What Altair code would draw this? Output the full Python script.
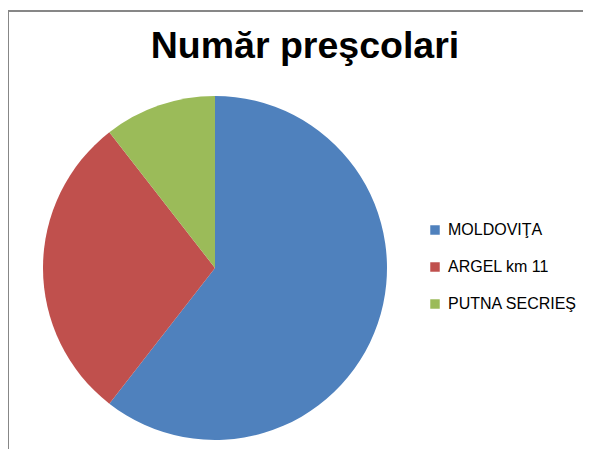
import altair as alt
import pandas as pd

categories = ["MOLDOVIŢA", "ARGEL km 11", "PUTNA SECRIEŞ"]
values = [23, 11, 4]
colors = ["#4F81BD", "#C0504D", "#9BBB59"]
title_text = "Număr preşcolari"

df = pd.DataFrame({"cat": categories, "val": values, "order": [0, 1, 2]})

W, H = 575, 441

pie = alt.Chart(df).mark_arc(radius=172, stroke=None).encode(
    theta=alt.Theta("val:Q", stack=True),
    color=alt.Color(
        "cat:N",
        scale=alt.Scale(domain=categories, range=colors),
        sort=categories,
        legend=alt.Legend(
            title=None,
            orient="none",
            legendX=419,
            legendY=214,
            symbolType="square",
            symbolSize=90,
            symbolStrokeWidth=0,
            labelFont="Liberation Sans",
            labelFontSize=16,
            labelColor="#000000",
            labelOffset=5,
            rowPadding=21,
            labelLimit=300,
        ),
    ),
    order=alt.Order("order:Q"),
    x=alt.value(207),
    y=alt.value(260),
)

title = alt.Chart(pd.DataFrame({"t": [title_text]})).mark_text(
    font="Liberation Sans", fontSize=37.5, fontWeight="bold", color="#000000",
    align="center", baseline="alphabetic",
).encode(text="t:N", x=alt.value(297), y=alt.value(50))

border_left = alt.Chart(pd.DataFrame({"a": [0]})).mark_rule(
    color="#878787", strokeWidth=2
).encode(x=alt.value(0), y=alt.value(2), y2=alt.value(H))

border_top = alt.Chart(pd.DataFrame({"a": [0]})).mark_rule(
    color="#878787", strokeWidth=2
).encode(x=alt.value(0), x2=alt.value(W), y=alt.value(3))

chart = alt.layer(border_left, border_top, title, pie).properties(
    width=W, height=H, padding=0, autosize=alt.AutoSizeParams(type="none")
).configure_view(stroke=None)

chart.save("out.html", embed_options={"renderer": "svg", "actions": False})
